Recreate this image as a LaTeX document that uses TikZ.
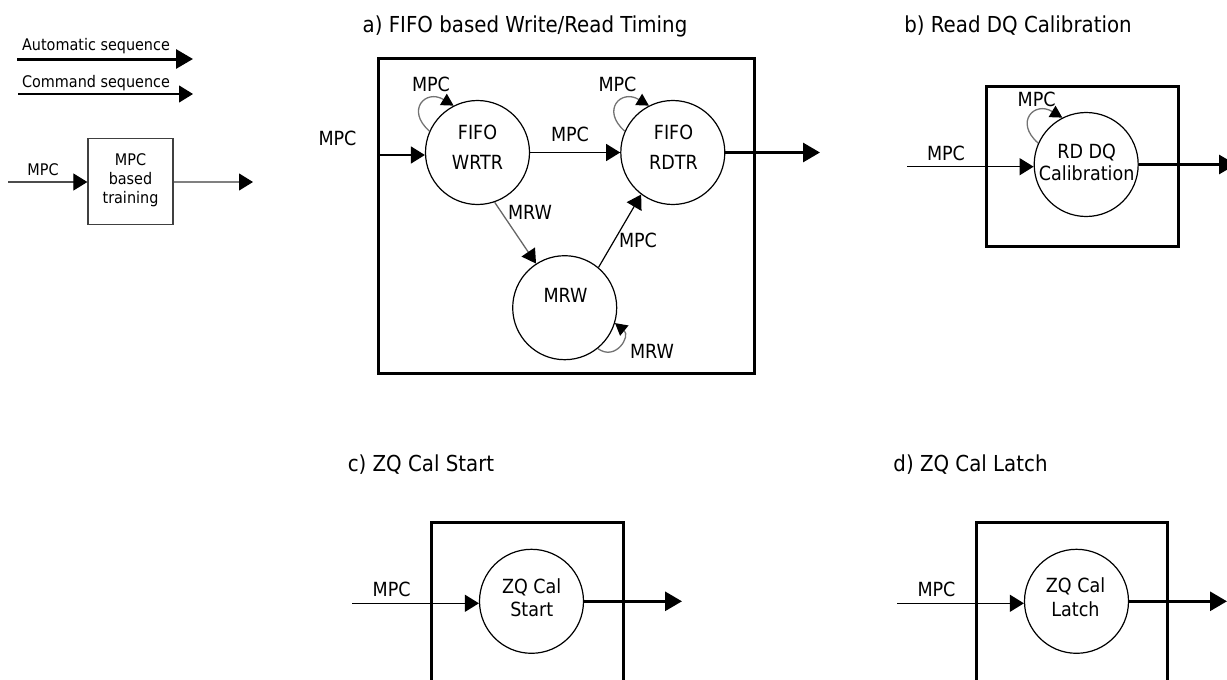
\documentclass[tikz,border=0pt]{standalone}
\usepackage{fontspec}
\setmainfont{DejaVu Sans}[FakeStretch=0.9]
\usetikzlibrary{arrows.meta,calc}
\begin{document}
\begin{tikzpicture}[x=1pt,y=-1pt,
 state/.style={circle,draw,line width=1.2pt,minimum size=104pt,inner sep=0pt},
 frame/.style={draw,line width=3pt,inner sep=0pt},
 ttl/.style={font=\fontsize{22}{26}\selectfont,anchor=base,inner sep=0pt},
 lbl/.style={font=\fontsize{19.5}{23}\selectfont,anchor=base,inner sep=0pt},
 sml/.style={font=\fontsize{16}{19}\selectfont,anchor=base,inner sep=0pt},
 cmdarr/.style={line width=1.2pt,-{Triangle[length=14pt,width=17pt]}},
 autoarr/.style={line width=3pt,-{Triangle[length=17pt,width=19pt]}},
 grayarr/.style={draw=black!60,line width=1.3pt,-{Triangle[length=14pt,width=16pt,color=black]}},
 loopline/.style={draw=black!55,line width=1.3pt,-{Triangle[length=12pt,width=13pt,color=black]}},
]
\useasboundingbox (0,0) rectangle (1227,680);

% ---------- legend ----------
\node[sml] (tauto) at (96,50) {Automatic sequence};
\coordinate (l1s) at (17,59); \coordinate (l1e) at (193,59);
\draw[autoarr] (l1s) -- (l1e);
\node[sml] (tcmd) at (96,87) {Command sequence};
\coordinate (l2s) at (18,94); \coordinate (l2e) at (193,94);
\draw[cmdarr] (l2s) -- (l2e);

\node[draw=black!75,line width=1.3pt,minimum width=85pt,minimum height=86pt,inner sep=0pt] (mpcbox) at (130.5,181.2) {};
\node[sml] (tb1) at (130.5,165) {MPC};
\node[sml] (tb2) at (130.5,184) {based};
\node[sml] (tb3) at (130.5,203) {training};
\node[sml] (tbin) at (43,175) {MPC};
\coordinate (bin) at (8,182); \coordinate (bout) at (253,182);
\draw[draw=black!70,line width=1.2pt,-{Triangle[length=14pt,width=17pt,color=black]}] (bin) -- (bin -| mpcbox.west);
\draw[draw=black!50,line width=1.2pt,-{Triangle[length=14pt,width=17pt,color=black]}] (mpcbox.east |- bout) -- (bout);

% ---------- panel a ----------
\node[ttl] (ta) at (525,32) {a) FIFO based Write/Read Timing};
\node[frame,minimum width=376pt,minimum height=315pt] (boxa) at (566,215.5) {};
\node[state] (wrtr) at (477.5,152.5) {};
\node[state] (rdtr) at (672.8,152.5) {};
\node[state] (mrw) at (564.7,307.7) {};
\node[lbl] (twr1) at (477.5,139.3) {FIFO};
\node[lbl] (twr2) at (477.5,169) {WRTR};
\node[lbl] (trd1) at (673.5,139.3) {FIFO};
\node[lbl] (trd2) at (673.5,169) {RDTR};
\node[lbl] (tmrw) at (565.5,302) {MRW};

\node[lbl] (tina) at (337.5,145) {MPC};
\coordinate (ina) at (378,155);
\draw[cmdarr] (ina) -- (ina -| wrtr.west);
\coordinate (outa) at (820,155);
\draw[autoarr] (rdtr.east) -- (rdtr.east -| outa);

\draw[cmdarr] (wrtr) -- (rdtr);
\node[lbl] (twr_rd) at (570,141.7) {MPC};
\draw[grayarr] (wrtr.289) -- (mrw.123);
\node[lbl] (twr_mrw) at (530,219) {MRW};
\draw[cmdarr] (mrw.50) -- (rdtr.233);
\node[lbl] (tmrw_rd) at (638,247.7) {MPC};

\draw[loopline] (wrtr.156) .. controls +(-24,-21) and +(-28,-17) .. (wrtr.117);
\node[lbl] (tlw) at (431,91.7) {MPC};
\draw[loopline] (rdtr.156) .. controls +(-24,-21) and +(-28,-17) .. (rdtr.117);
\node[lbl] (tlr) at (617.5,91.7) {MPC};
\draw[loopline] (mrw.309) .. controls +(18,13) and +(16,13) .. (mrw.343);
\node[lbl] (tlm) at (652,358) {MRW};

% ---------- panel b ----------
\node[ttl] (tbt) at (1018,32) {b) Read DQ Calibration};
\node[frame,minimum width=192pt,minimum height=160pt] (boxb) at (1082,166) {};
\node[state] (rdq) at (1086.2,164.5) {};
\node[lbl] (trdq1) at (1086.7,158.3) {RD DQ};
\node[lbl] (trdq2) at (1086.7,180) {Calibration};
\node[lbl] (tinb) at (946,160) {MPC};
\coordinate (inb) at (907,166.7);
\draw[cmdarr] (inb) -- (inb -| rdq.west);
\coordinate (outb) at (1236,167);
\draw[autoarr] (rdq.east) -- (rdq.east -| outb);
\draw[loopline] (rdq.156) .. controls +(-24,-21) and +(-28,-17) .. (rdq.117);
\node[lbl] (tlb) at (1036.7,106) {MPC};

% ---------- panel c ----------
\node[ttl] (tct) at (421,471) {c) ZQ Cal Start};
\node[frame,minimum width=191.6pt,minimum height=177.4pt] (boxc) at (527.5,611) {};
\node[state] (zqs) at (531.5,601.3) {};
\node[lbl] (tzs1) at (531.7,593.3) {ZQ Cal};
\node[lbl] (tzs2) at (531.7,616.7) {Start};
\node[lbl] (tinc) at (391.7,596) {MPC};
\coordinate (inc) at (352.3,603.3);
\draw[cmdarr] (inc) -- (inc -| zqs.west);
\coordinate (outc) at (682,604);
\draw[autoarr] (zqs.east) -- (zqs.east -| outc);

% ---------- panel d ----------
\node[ttl] (tdt) at (970.5,471) {d) ZQ Cal Latch};
\node[frame,minimum width=190.6pt,minimum height=177.4pt] (boxd) at (1072,611) {};
\node[state] (zql) at (1076.5,601.3) {};
\node[lbl] (tzl1) at (1075.5,592.7) {ZQ Cal};
\node[lbl] (tzl2) at (1075.5,616.7) {Latch};
\node[lbl] (tind) at (936.5,596) {MPC};
\coordinate (ind) at (897.3,603.3);
\draw[cmdarr] (ind) -- (ind -| zql.west);
\coordinate (outd) at (1227,604);
\draw[autoarr] (zql.east) -- (zql.east -| outd);
\end{tikzpicture}
\end{document}
